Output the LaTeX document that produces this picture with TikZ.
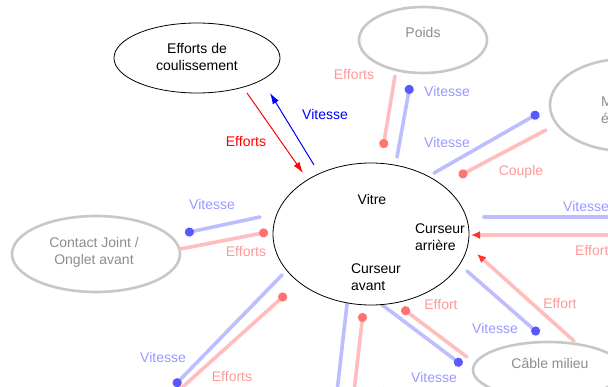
\documentclass[tikz,border=0pt]{standalone}
\usepackage{fontspec}
\setmainfont{Liberation Sans}
\usetikzlibrary{shapes.geometric,arrows.meta}
\begin{document}
\begin{tikzpicture}[x=1pt,y=-1pt,
  every node/.style={font=\fontsize{14}{17}\selectfont, align=center, inner sep=0pt},
  sharpell/.style={draw, ellipse, line width=0.8pt},
  ghostell/.style={draw=black!22, ellipse, line width=2.6pt},
  ghosttext/.style={text=black!45},
  redarrow/.style={draw=red, line width=1pt, -{Latex[length=11pt,width=7pt]}},
  bluearrow/.style={draw=blue, line width=1pt, -{Latex[length=11pt,width=7pt]}},
  gblue/.style={draw=blue!26, line width=3.6pt, line cap=round},
  gred/.style={draw=red!26, line width=3.6pt, line cap=round},
  gbluedot/.style={gblue, -{Circle[length=9pt,color=blue!65]}},
  greddot/.style={gred, -{Circle[length=9pt,color=red!55]}},
  gredtri/.style={gred, -{Latex[length=9pt,width=8pt,color=red!80]}},
  gbluelab/.style={text=blue!40},
  gredlab/.style={text=red!40},
  redlab/.style={text=red},
  bluelab/.style={text=blue}
]
\useasboundingbox (0,0) rectangle (608,387);

% ---------- ghost (blurred) ellipses ----------
\node[ghostell, minimum width=128pt, minimum height=66pt] (poids) at (423,40) {};
\node[ghosttext] (poidst) at (423,32) {Poids};
\node[ghostell, minimum width=150pt, minimum height=92pt] (moteur) at (625,105) {};
\node[ghosttext, anchor=west, align=left] (moteurt) at (601,112) {Moteur\\électrique};
\node[ghostell, minimum width=168pt, minimum height=76pt] (contact) at (96,254) {};
\node[ghosttext] (contactt) at (94,252) {Contact Joint /\\Onglet avant};
\node[ghostell, minimum width=150pt, minimum height=56pt] (cable) at (548,370) {};
\node[ghosttext] (cablet) at (550,363) {Câble milieu};

% ---------- ghost connectors ----------
\coordinate (p1) at (395,76);  \coordinate (p2) at (383,148);
\coordinate (p3) at (397,157); \coordinate (p4) at (410,85);
\coordinate (m1) at (434,173); \coordinate (m2) at (539,113);
\coordinate (m3) at (546,130); \coordinate (m4) at (459,176);
\coordinate (h1) at (484,217); \coordinate (h2) at (612,217);
\coordinate (h3) at (612,235); \coordinate (h4) at (471,235);
\coordinate (d1) at (574,341); \coordinate (d2) at (477,254);
\coordinate (d3) at (467,271); \coordinate (d4) at (539,334);
\coordinate (c1) at (467,357); \coordinate (c2) at (402,308);
\coordinate (c3) at (381,304); \coordinate (c4) at (462,365);
\coordinate (b1) at (347,304); \coordinate (b2) at (337,392);
\coordinate (b3) at (354,392); \coordinate (b4) at (363,313);
\coordinate (l1) at (260,217); \coordinate (l2) at (185,233);
\coordinate (l3) at (180,249); \coordinate (l4) at (268,232);
\coordinate (q1) at (282,275); \coordinate (q2) at (174,386);
\coordinate (q3) at (177,392); \coordinate (q4) at (286,294);

\draw[greddot]  (p1) -- (p2);
\draw[gbluedot] (p3) -- (p4);
\draw[gbluedot] (m1) -- (m2);
\draw[greddot]  (m3) -- (m4);
\draw[gblue]    (h1) -- (h2);
\draw[gredtri]  (h3) -- (h4);
\draw[gredtri]  (d1) -- (d2);
\draw[gbluedot] (d3) -- (d4);
\draw[greddot]  (c1) -- (c2);
\draw[gbluedot] (c3) -- (c4);
\draw[gblue]    (b1) -- (b2);
\draw[greddot]  (b3) -- (b4);
\draw[gbluedot] (l1) -- (l2);
\draw[greddot]  (l3) -- (l4);
\draw[gbluedot] (q1) -- (q2);
\draw[greddot]  (q3) -- (q4);

% ---------- ghost labels ----------
\node[gredlab]  (lab1) at (354,75) {Efforts};
\node[gbluelab] (lab2) at (447,91) {Vitesse};
\node[gbluelab] (lab3) at (447,142) {Vitesse};
\node[gredlab]  (lab4) at (521,172) {Couple};
\node[gbluelab, anchor=west] (lab5) at (563,206) {Vitesse};
\node[gredlab, anchor=west]  (lab6) at (575,251) {Effort};
\node[gredlab]  (lab7) at (560,304) {Effort};
\node[gbluelab] (lab8) at (495,328) {Vitesse};
\node[gredlab]  (lab9) at (441,305) {Effort};
\node[gbluelab] (lab10) at (434,377) {Vitesse};
\node[gredlab, anchor=west] (lab11) at (367,393) {Effort};
\node[gbluelab, anchor=west] (lab12) at (280,393) {Vitesse};
\node[gbluelab] (lab13) at (212,204) {Vitesse};
\node[gredlab]  (lab14) at (246,252) {Efforts};
\node[gbluelab] (lab15) at (163,357) {Vitesse};
\node[gredlab]  (lab16) at (232,377) {Efforts};

% ---------- sharp part ----------
\node[sharpell, fill=white, minimum width=196pt, minimum height=142pt] (vitre) at (371,234) {};
\node (vitret) at (372,199) {Vitre};
\node[align=left] (arriere) at (440,237) {Curseur\\arrière};
\node[align=left] (avant) at (376,277) {Curseur\\avant};

\node[sharpell, minimum width=166pt, minimum height=70pt] (coul) at (197,58) {};
\node (coult) at (197,57) {Efforts de\\coulissement};

\coordinate (e1) at (247,93);  \coordinate (e2) at (303,173);
\coordinate (v1) at (314,165); \coordinate (v2) at (270,93);
\draw[redarrow]  (e1) -- (e2);
\draw[bluearrow] (v1) -- (v2);
\node[redlab]  (efl) at (246,142) {Efforts};
\node[bluelab] (vil) at (325,114) {Vitesse};
\end{tikzpicture}
\end{document}
